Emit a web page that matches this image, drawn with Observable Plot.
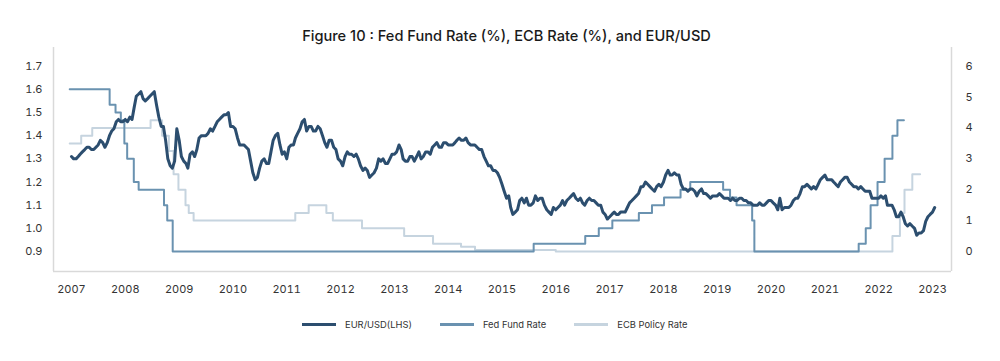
<!DOCTYPE html>
<html><head><meta charset="utf-8">
<script src="https://cdn.jsdelivr.net/npm/d3@7"></script>
<script src="https://cdn.jsdelivr.net/npm/@observablehq/plot@0.6"></script>
<style>
body{margin:0;background:#fff;font-family:Inter,"Open Sans",sans-serif;}
#title{height:47px;box-sizing:border-box;padding-top:27px;padding-left:13px;text-align:center;font-size:14.6px;line-height:18px;font-weight:500;color:#1a1a1a;}
#chart svg{display:block;}
#legend{display:flex;align-items:center;margin-top:15px;margin-left:302px;height:16px;font-size:9.4px;color:#333;}
.item{display:flex;align-items:center;margin-right:28px;}
.sw{width:34px;height:3px;margin-right:9px;}
</style></head>
<body>
<div id="title">Figure 10 : Fed Fund Rate (%), ECB Rate (%), and EUR/USD</div>
<div id="chart"></div>
<div id="legend"></div>
<script>
// EUR/USD, semi-monthly readings (1st and 16th of each month), Jan 2007 – Jan 2023
const eurStart = [2007, 0];
const eur2007 = [1.31,1.30,1.30,1.31,1.32,1.33,1.34,1.35,1.35,1.34,1.34,1.35,1.36,1.38,1.37,1.35,1.37,1.40,1.42,1.43,1.46,1.47,1.46,1.46];
const eur2008 = [1.47,1.46,1.48,1.47,1.52,1.57,1.58,1.59,1.56,1.55,1.56,1.57,1.58,1.59,1.53,1.48,1.44,1.44,1.38,1.30,1.27,1.26,1.29,1.43];
const eur2009 = [1.38,1.31,1.29,1.28,1.26,1.32,1.33,1.31,1.34,1.39,1.40,1.40,1.40,1.41,1.43,1.42,1.44,1.46,1.47,1.48,1.49,1.49,1.50,1.44];
const eur2010 = [1.44,1.43,1.39,1.36,1.36,1.36,1.35,1.34,1.29,1.24,1.21,1.22,1.26,1.29,1.30,1.28,1.28,1.33,1.38,1.40,1.41,1.36,1.32,1.33];
const eur2011 = [1.30,1.35,1.36,1.36,1.39,1.41,1.43,1.46,1.47,1.42,1.44,1.44,1.42,1.42,1.44,1.43,1.40,1.37,1.35,1.38,1.38,1.35,1.34,1.30];
const eur2012 = [1.29,1.27,1.31,1.33,1.32,1.32,1.31,1.32,1.30,1.27,1.25,1.26,1.25,1.22,1.23,1.24,1.26,1.30,1.29,1.30,1.28,1.28,1.30,1.32];
const eur2013 = [1.32,1.33,1.36,1.34,1.30,1.29,1.29,1.31,1.31,1.29,1.31,1.33,1.30,1.31,1.33,1.33,1.32,1.35,1.36,1.37,1.35,1.35,1.37,1.37];
const eur2014 = [1.36,1.36,1.36,1.37,1.38,1.39,1.38,1.38,1.39,1.37,1.36,1.36,1.36,1.35,1.34,1.34,1.31,1.29,1.27,1.27,1.25,1.25,1.24,1.22];
const eur2015 = [1.19,1.16,1.13,1.14,1.09,1.06,1.07,1.08,1.12,1.13,1.11,1.13,1.10,1.10,1.11,1.14,1.12,1.13,1.13,1.10,1.08,1.07,1.06,1.09];
const eur2016 = [1.08,1.09,1.10,1.12,1.10,1.12,1.13,1.14,1.15,1.13,1.12,1.13,1.11,1.10,1.12,1.13,1.12,1.12,1.11,1.10,1.10,1.07,1.06,1.04];
const eur2017 = [1.05,1.06,1.07,1.06,1.06,1.07,1.07,1.07,1.09,1.11,1.12,1.13,1.14,1.15,1.18,1.18,1.20,1.19,1.18,1.17,1.16,1.18,1.19,1.18];
const eur2018 = [1.20,1.23,1.25,1.23,1.23,1.24,1.23,1.23,1.19,1.17,1.17,1.16,1.17,1.17,1.16,1.14,1.16,1.17,1.15,1.15,1.14,1.13,1.14,1.14];
const eur2019 = [1.14,1.15,1.14,1.13,1.13,1.13,1.12,1.13,1.12,1.12,1.13,1.13,1.12,1.12,1.11,1.11,1.10,1.10,1.10,1.11,1.10,1.10,1.11,1.12];
const eur2020 = [1.12,1.11,1.10,1.08,1.13,1.08,1.09,1.09,1.09,1.10,1.12,1.13,1.13,1.15,1.18,1.18,1.19,1.18,1.17,1.18,1.17,1.19,1.21,1.22];
const eur2021 = [1.23,1.21,1.21,1.21,1.20,1.19,1.18,1.20,1.21,1.22,1.22,1.20,1.19,1.18,1.18,1.17,1.18,1.17,1.16,1.16,1.16,1.13,1.13,1.13];
const eur2022 = [1.13,1.14,1.13,1.14,1.10,1.10,1.10,1.08,1.05,1.05,1.07,1.05,1.02,1.01,1.02,1.01,1.00,0.97,0.98,0.98,0.99,1.03,1.05,1.06];
const eur2023 = [1.07,1.09];
const eurValues = [].concat(eur2007,eur2008,eur2009,eur2010,eur2011,eur2012,eur2013,eur2014,eur2015,eur2016,eur2017,eur2018,eur2019,eur2020,eur2021,eur2022,eur2023);

// Fed Fund Rate (%), step changes as placed on the chart
const fedDates = ["2006-12-20","2007-09-17","2007-10-27","2007-12-02","2007-12-26","2008-01-14","2008-02-28","2008-04-01","2008-09-20","2008-10-12","2008-11-18","2015-08-04","2016-07-19","2016-10-19","2017-01-19","2017-07-18","2017-10-15","2018-01-05","2018-04-27","2018-07-02","2019-02-10","2019-03-29","2019-05-12","2019-08-26","2019-09-10","2021-08-18","2021-10-05","2021-11-07","2021-12-24","2022-02-10","2022-04-04","2022-05-08","2022-06-21"];
const fedRates = [5.25,4.75,4.5,4.25,3.5,3.0,2.25,2.0,1.5,1.0,0,0.25,0.5,0.75,1.0,1.25,1.5,1.75,2.0,2.25,2.0,1.75,1.5,1.0,0,0.25,0.75,1.5,2.25,3.0,3.75,4.25,4.25];

// ECB Policy Rate (%)
const ecbDates = ["2006-12-20","2007-03-08","2007-05-22","2008-06-21","2008-09-07","2008-10-23","2008-11-24","2008-12-27","2009-02-13","2009-03-07","2009-04-09","2011-02-28","2011-05-30","2011-09-27","2011-11-10","2012-05-26","2013-03-08","2013-09-20","2014-03-29","2014-07-02","2016-01-01","2022-04-04","2022-05-25","2022-06-25","2022-08-17","2022-10-09"];
const ecbRates = [3.5,3.75,4.0,4.25,3.75,3.25,2.5,2.0,1.5,1.25,1.0,1.25,1.5,1.25,1.0,0.75,0.5,0.25,0.15,0.05,0,0.5,1.25,2.0,2.5,2.5];

const leftTicks = [0.9,1.0,1.1,1.2,1.3,1.4,1.5,1.6,1.7];
const rightTicks = [0,1,2,3,4,5,6];
const yearTicks = [2007,2008,2009,2010,2011,2012,2013,2014,2015,2016,2017,2018,2019,2020,2021,2022,2023];

const colors = {eur:"#2c4e6f", fed:"#6a92b0", ecb:"#c6d4df"};
const seriesNames = ["EUR/USD(LHS)","Fed Fund Rate","ECB Policy Rate"];

// build tables
const eur = eurValues.map((v,i)=>({date:new Date(Date.UTC(eurStart[0], eurStart[1]+Math.floor(i/2), i%2?16:1)), v}));
const rateToY = r => 0.9 + r/7.5;   // right axis 0..6 ↔ left axis 0.9..1.7
const fed = fedDates.map((d,i)=>({date:new Date(d), v:rateToY(fedRates[i])}));
const ecb = ecbDates.map((d,i)=>({date:new Date(d), v:rateToY(ecbRates[i])}));

const xDomain = [new Date("2006-09-01"), new Date("2023-05-10")];
const yDomain = [0.8136, 1.7807];
const axisColor = "#d9d9d9";

const chart = Plot.plot({
  width:1000, height:254,
  marginLeft:53, marginRight:49, marginTop:0, marginBottom:30,
  x:{type:"utc", domain:xDomain, label:null},
  y:{domain:yDomain, label:null},
  style:{fontFamily:"Inter, 'Open Sans', sans-serif", fontSize:"11px", color:"#333", background:"#fff"},
  marks:[
    Plot.ruleY([yDomain[0]], {stroke:axisColor, strokeWidth:1.5}),
    Plot.ruleX([xDomain[0]], {stroke:axisColor, strokeWidth:1.5}),
    Plot.ruleX([xDomain[1]], {stroke:axisColor, strokeWidth:1.5}),
    Plot.axisX({ticks:yearTicks.map(y=>new Date(Date.UTC(y,0,1))), tickSize:0, tickPadding:14, tickFormat:d=>String(d.getUTCFullYear()), label:null}),
    Plot.axisY({anchor:"left", ticks:leftTicks, tickSize:0, tickPadding:11, tickFormat:d3.format(".1f"), label:null}),
    Plot.axisY({anchor:"right", ticks:rightTicks.map(rateToY), tickSize:0, tickPadding:14, tickFormat:v=>String(Math.round((v-0.9)*7.5)), label:null}),
    Plot.line(ecb, {x:"date", y:"v", curve:"step-after", stroke:colors.ecb, strokeWidth:2}),
    Plot.line(fed, {x:"date", y:"v", curve:"step-after", stroke:colors.fed, strokeWidth:2}),
    Plot.line(eur, {x:"date", y:"v", stroke:colors.eur, strokeWidth:3, strokeLinejoin:"round"})
  ]
});
document.getElementById("chart").appendChild(chart);

const legend = document.getElementById("legend");
[colors.eur, colors.fed, colors.ecb].forEach((c,i)=>{
  const it = document.createElement("div"); it.className="item";
  const sw = document.createElement("div"); sw.className="sw"; sw.style.background=c;
  const tx = document.createElement("span"); tx.textContent = seriesNames[i];
  it.appendChild(sw); it.appendChild(tx); legend.appendChild(it);
});
</script>
</body></html>
